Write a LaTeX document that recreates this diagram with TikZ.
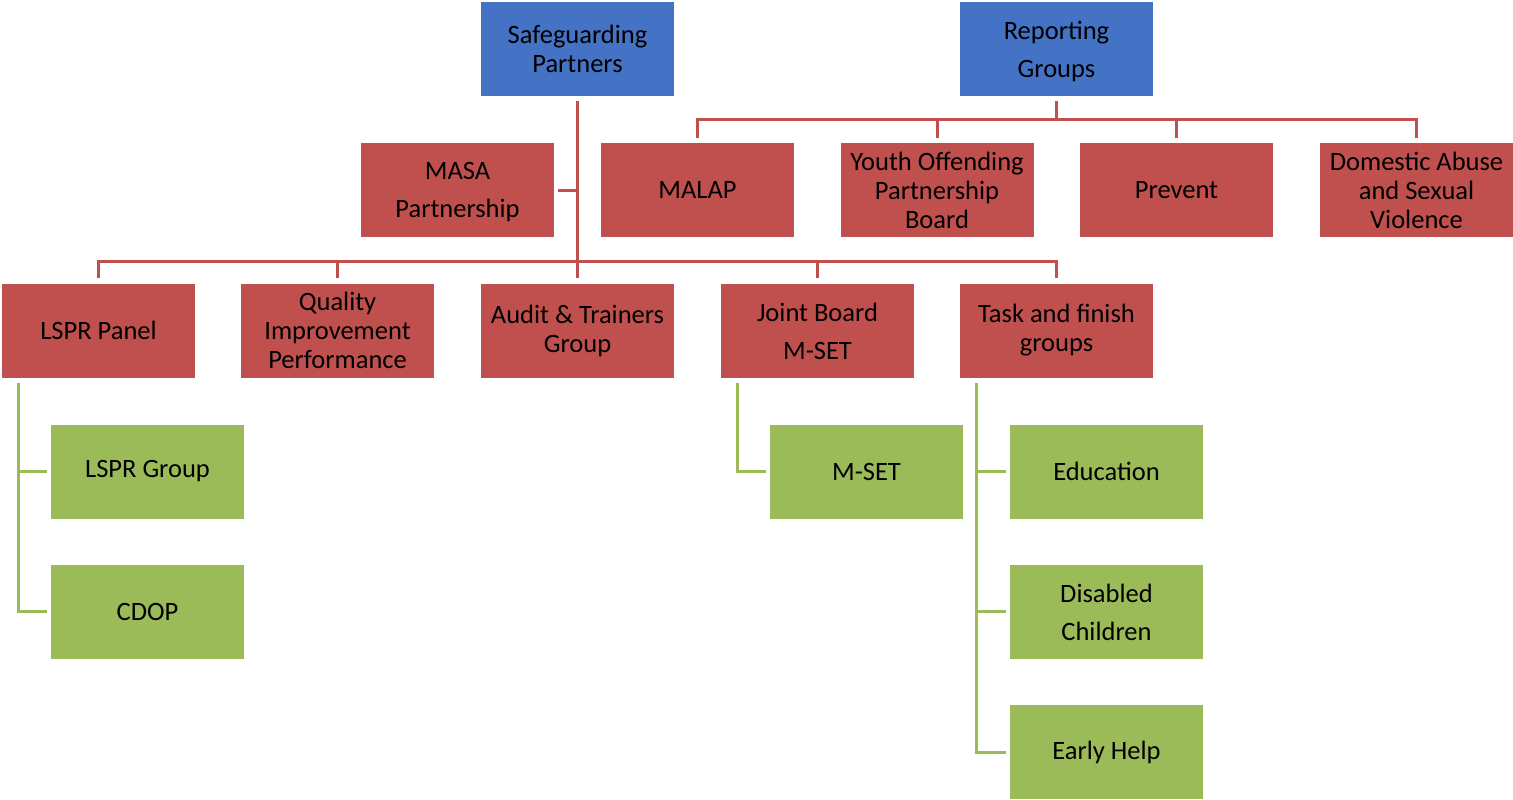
\documentclass[tikz,border=0pt]{standalone}
\usepackage{fontspec}
\setmainfont{Carlito}
\usepackage{tikz}
\usepackage{xcolor}

\definecolor{headblue}{HTML}{4472C4}
\definecolor{groupred}{HTML}{C0504D}
\definecolor{subgreen}{HTML}{9BBB59}
% text moved down inside its box, box size kept
\newcommand{\dropdown}[2]{\raisebox{-#1}[\height][\depth]{\begin{tabular}{@{}c@{}}#2\end{tabular}}}

\begin{document}
\begin{tikzpicture}%
  [x=1pt,y=-1pt,
   every node/.style={font=\fontsize{26.5}{29}\selectfont,align=center}]
  \tikzstyle{box node}=[rectangle,minimum width=193pt,minimum height=94pt,inner sep=2]
  \tikzstyle{head node}=[box node,fill=headblue]
  \tikzstyle{group node}=[box node,fill=groupred]
  \tikzstyle{sub node}=[box node,fill=subgreen]
  \tikzstyle{red link}=[draw=groupred,line width=3pt]
  \tikzstyle{green link}=[draw=subgreen,line width=3pt]
  \useasboundingbox (0,0) rectangle (1513,800);
  % top
  \node(sp)[head node] at (577.5,49){Safeguarding\\Partners};
  \node(rg)[head node] at (1056.5,49){\dropdown{4pt}{Reporting\\[9pt]Groups}};
  % reporting groups
  \node(masa)[group node] at (457.5,190){\dropdown{3pt}{MASA\\[9pt]Partnership}};
  \node(malap)[group node] at (697.5,190){MALAP};
  \node(yop)[group node] at (937,190){Youth Offending\\Partnership\\Board};
  \node(prev)[group node] at (1176.5,190){Prevent};
  \node(dasv)[group node] at (1416.5,190){Domestic Abuse\\and Sexual\\Violence};
  % sub groups
  \node(lspr)[group node] at (98.5,330.5){LSPR Panel};
  \node(qip)[group node] at (337.5,330.5){Quality\\Improvement\\Performance};
  \node(audit)[group node] at (577.5,330.5){Audit \& Trainers\\Group};
  \node(joint)[group node] at (817.5,330.5){\dropdown{4pt}{Joint Board\\[9pt]M-SET}};
  \node(task)[group node] at (1056.5,330.5){Task and finish\\groups};
  % green
  \node(lsprg)[sub node] at (147.5,471.5){LSPR Group};
  \node(cdop)[sub node] at (147.5,611.5){CDOP};
  \node(mset)[sub node] at (866.5,471.5){M-SET};
  \node(edu)[sub node] at (1106.5,471.5){Education};
  \node(dis)[sub node] at (1106.5,611.5){\dropdown{4pt}{Disabled\\[9pt]Children}};
  \node(early)[sub node] at (1106.5,752){Early Help};
  % red links
  \coordinate(bus) at (577.5,261);
  \coordinate(rbus) at (1056.5,119);
  \draw[red link] ([yshift=-5pt]sp.south) -- ([yshift=5pt]audit.north);
  \draw[red link] ([yshift=5pt]lspr.north) |- (bus) -| ([yshift=5pt]task.north);
  \draw[red link] ([yshift=5pt]qip.north) -- (qip.north |- bus);
  \draw[red link] ([yshift=5pt]joint.north) -- (joint.north |- bus);
  \draw[red link] ([xshift=4pt]masa.east) -- (masa.east -| bus);
  \draw[red link] ([yshift=-5pt]rg.south) -- (rbus);
  \draw[red link] ([yshift=5pt]malap.north) |- (rbus) -| ([yshift=5pt]dasv.north);
  \draw[red link] ([yshift=5pt]yop.north) -- (yop.north |- rbus);
  \draw[red link] ([yshift=5pt]prev.north) -- (prev.north |- rbus);
  % green links
  \coordinate(lt) at ([xshift=17pt,yshift=-5pt]lspr.south west);
  \coordinate(jt) at ([xshift=17pt,yshift=-5pt]joint.south west);
  \coordinate(tt) at ([xshift=17pt,yshift=-5pt]task.south west);
  \draw[green link] (lt) |- ([xshift=-4pt]cdop.west);
  \draw[green link] (lt |- lsprg.west) -- ([xshift=-4pt]lsprg.west);
  \draw[green link] (jt) |- ([xshift=-4pt]mset.west);
  \draw[green link] (tt) |- ([xshift=-4pt]early.west);
  \draw[green link] (tt |- edu.west) -- ([xshift=-4pt]edu.west);
  \draw[green link] (tt |- dis.west) -- ([xshift=-4pt]dis.west);
\end{tikzpicture}
\end{document}
